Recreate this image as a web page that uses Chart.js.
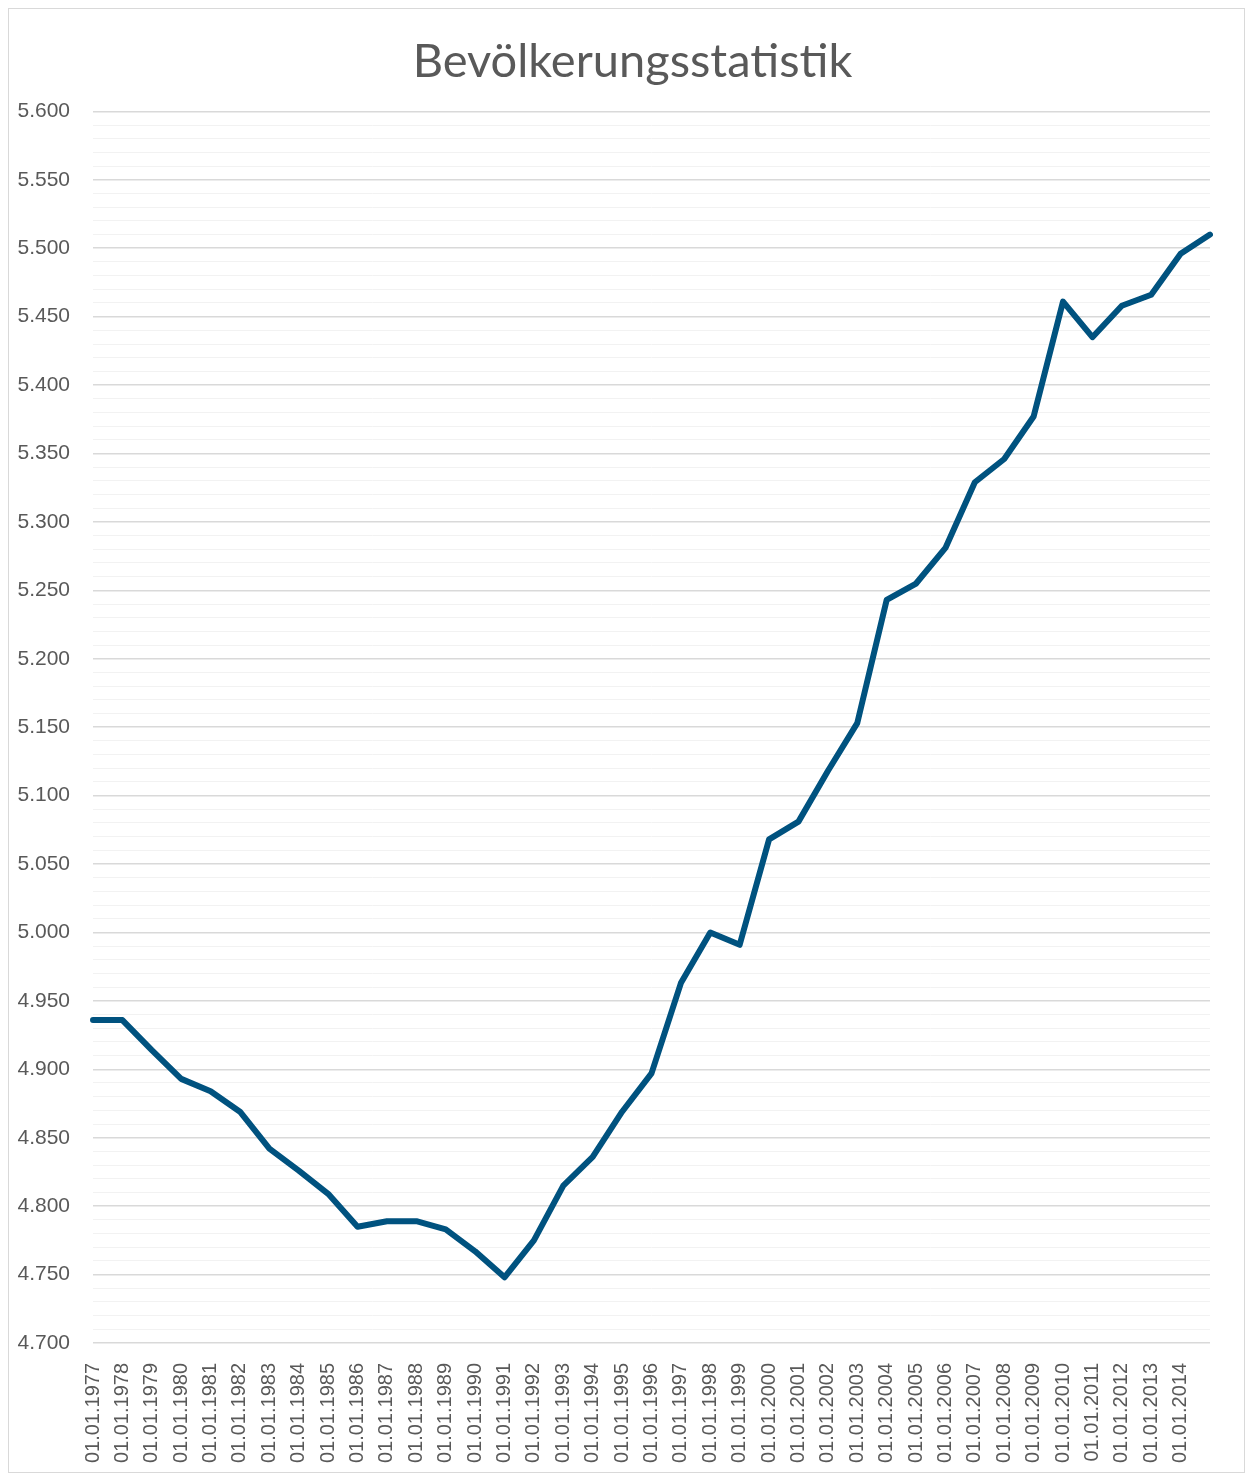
<!DOCTYPE html>
<html>
<head>
  <meta charset="utf-8">
  <title>Bevölkerungsstatistik</title>
  <script src="https://cdn.jsdelivr.net/npm/chart.js"></script>
  <style>
    body { margin: 0; background: #fff; }
    canvas { display: block; }
  </style>
</head>
<body>
  <canvas id="myChart" width="1253" height="1479"></canvas>

  <script>
    // Stichtage (01.01. jedes Jahres) und Einwohner
    const years = [1977, 1978, 1979, 1980, 1981, 1982, 1983, 1984, 1985, 1986,
                   1987, 1988, 1989, 1990, 1991, 1992, 1993, 1994, 1995, 1996,
                   1997, 1998, 1999, 2000, 2001, 2002, 2003, 2004, 2005, 2006,
                   2007, 2008, 2009, 2010, 2011, 2012, 2013, 2014, 2015];
    const population = [4936, 4936, 4914, 4893, 4884, 4869, 4842, 4826, 4809, 4785,
                        4789, 4789, 4783, 4767, 4748, 4775, 4815, 4836, 4869, 4897,
                        4963, 5000, 4991, 5068, 5081, 5118, 5153, 5243, 5255, 5281,
                        5329, 5346, 5377, 5461, 5435, 5458, 5466, 5496, 5510];
    const yMin = 4700;
    const yMax = 5600;
    const majorStep = 50;
    const minorStep = 10;

    const labels = years.map(y => '01.01.' + y);

    // 4700 -> "4.700"
    function formatDe(v) {
      return Math.floor(v / 1000) + '.' + String(v % 1000).padStart(3, '0');
    }

    // light grey frame around the whole chart
    const frame = {
      id: 'frame',
      afterDraw(chart) {
        const c = chart.ctx;
        c.save();
        c.strokeStyle = '#d9d9d9';
        c.lineWidth = 1;
        c.strokeRect(8.5, 8.5, 1236, 1464);
        c.restore();
      }
    };

    const ctx = document.getElementById('myChart').getContext('2d');
    const myChart = new Chart(ctx, {
      type: 'line',
      data: {
        labels: labels,
        datasets: [{
          label: 'Bevölkerung',
          data: population,
          borderColor: '#00527f',
          borderWidth: 6,
          pointRadius: 0,
          tension: 0,
          borderJoinStyle: 'round',
          borderCapStyle: 'round',
          fill: false
        }]
      },
      options: {
        responsive: false,
        animation: false,
        layout: { padding: { left: 12, right: 0, top: 0, bottom: 0 } },
        plugins: {
          legend: { display: false },
          tooltip: { enabled: false },
          title: {
            display: true,
            text: 'Bevölkerungsstatistik',
            color: '#595959',
            font: { family: 'Lato', size: 47, weight: 'normal' },
            padding: { top: 34, bottom: 21 }
          }
        },
        scales: {
          x: {
            offset: false,
            grid: { display: false },
            border: { display: false },
            ticks: {
              autoSkip: false,
              maxRotation: 90,
              minRotation: 90,
              padding: 12,
              color: '#595959',
              font: { family: 'Liberation Sans', size: 20 },
              callback: function (val, i) {
                return i === labels.length - 1 ? '' : labels[i];
              }
            },
            afterFit: function (axis) {
              axis.height = 136;
              axis.paddingRight = 43;
            }
          },
          y: {
            min: yMin,
            max: yMax,
            border: { display: false },
            grid: {
              drawTicks: false,
              color: c => (c.tick && c.tick.value % majorStep === 0) ? '#d9d9d9' : '#f2f2f2',
              lineWidth: c => (c.tick && c.tick.value % majorStep === 0) ? 1.5 : 1
            },
            ticks: {
              stepSize: minorStep,
              autoSkip: false,
              padding: 23,
              color: '#595959',
              font: { family: 'Liberation Sans', size: 21 },
              callback: function (v) {
                return v % majorStep === 0 ? formatDe(v) : '';
              }
            },
            afterFit: function (axis) { axis.width = 81; }
          }
        }
      },
      plugins: [frame]
    });
  </script>
</body>
</html>
